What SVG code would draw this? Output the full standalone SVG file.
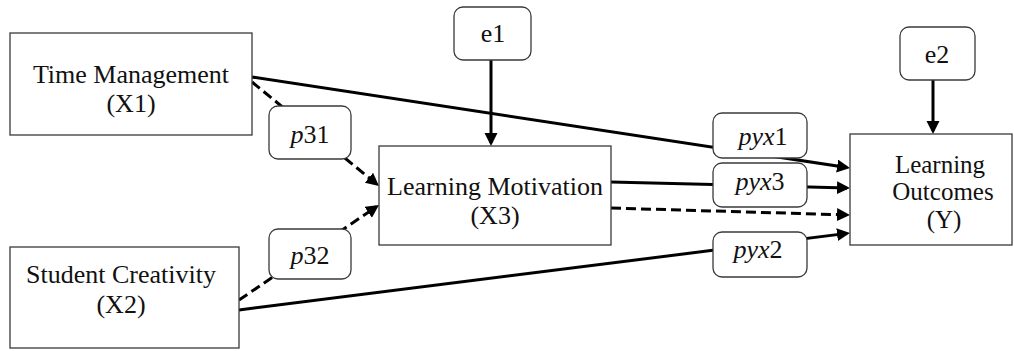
<svg xmlns="http://www.w3.org/2000/svg" width="1014" height="351" viewBox="0 0 1014 351">
  <style>
    .box { fill: #ffffff; stroke: #3a3a3a; stroke-width: 1.3; }
    .lbl { fill: #ffffff; stroke: #3a3a3a; stroke-width: 1.3; }
    .txt { font-family: 'Liberation Serif', 'DejaVu Serif', serif; font-size: 26px; fill: #111111; text-anchor: middle; }
    .sm { font-size: 25px; }
    .it { font-style: italic; }
    .path { fill: none; stroke: #000000; stroke-width: 3; }
    .dash { stroke-dasharray: 10 5; }
  </style>
  <defs>
    <marker id="arrow" markerUnits="userSpaceOnUse" markerWidth="14" markerHeight="14" refX="10" refY="6.5" orient="auto">
      <path d="M0,0 L13,6.5 L0,13 Z" fill="#000000"/>
    </marker>
  </defs>

  <!-- paths between variables -->
  <g id="connectors">
    <line class="path" x1="252" y1="77" x2="847.03" y2="167.55" marker-end="url(#arrow)"/>
    <line class="path" x1="611" y1="182" x2="847" y2="187.92" marker-end="url(#arrow)"/>
    <line class="path dash" x1="611" y1="208" x2="847" y2="214.91" marker-end="url(#arrow)"/>
    <line class="path" x1="239" y1="310" x2="847.02" y2="233.38" marker-end="url(#arrow)"/>
    <line class="path dash" x1="252" y1="82" x2="376.68" y2="184.1" marker-end="url(#arrow)"/>
    <line class="path dash" x1="239" y1="300" x2="376.52" y2="206.68" marker-end="url(#arrow)"/>
    <line class="path" x1="491" y1="60" x2="491" y2="143" marker-end="url(#arrow)"/>
    <line class="path" x1="933" y1="80" x2="933" y2="131" marker-end="url(#arrow)"/>
  </g>

  <g id="x1">
    <rect class="box" x="10" y="33" width="242" height="102"/>
    <text class="txt" x="131" y="83">Time Management</text>
    <text class="txt" x="131" y="112">(X1)</text>
  </g>

  <g id="x2">
    <rect class="box" x="10" y="247" width="229" height="101"/>
    <text class="txt" x="121" y="283">Student Creativity</text>
    <text class="txt" x="121" y="313">(X2)</text>
  </g>

  <g id="x3">
    <rect class="box" x="379" y="146" width="232" height="99"/>
    <text class="txt" x="495" y="195">Learning Motivation</text>
    <text class="txt" x="495" y="224">(X3)</text>
  </g>

  <g id="y">
    <rect class="box" x="850" y="134" width="162" height="111"/>
    <text class="txt sm" x="940" y="173">Learning</text>
    <text class="txt sm" x="943" y="200">Outcomes</text>
    <text class="txt sm" x="944" y="228">(Y)</text>
  </g>

  <g id="e1">
    <rect class="lbl" x="454" y="7" width="77" height="53" rx="9"/>
    <text class="txt" x="493" y="42">e1</text>
  </g>

  <g id="e2">
    <rect class="lbl" x="900" y="27" width="75" height="53" rx="9"/>
    <text class="txt" x="937" y="63">e2</text>
  </g>

  <g id="p31">
    <rect class="lbl" x="269" y="106" width="82" height="53" rx="9"/>
    <text class="txt" x="310" y="143"><tspan class="it">p</tspan>31</text>
  </g>

  <g id="p32">
    <rect class="lbl" x="269" y="229" width="82" height="50" rx="9"/>
    <text class="txt" x="310" y="264"><tspan class="it">p</tspan>32</text>
  </g>

  <g id="pyx1">
    <rect class="lbl" x="713" y="113" width="94" height="45" rx="9"/>
    <text class="txt" x="763" y="145"><tspan class="it">pyx</tspan>1</text>
  </g>

  <g id="pyx3">
    <rect class="lbl" x="713" y="163" width="94" height="44" rx="9"/>
    <text class="txt" x="760" y="190"><tspan class="it">pyx</tspan>3</text>
  </g>

  <g id="pyx2">
    <rect class="lbl" x="713" y="232" width="94" height="45" rx="9"/>
    <text class="txt" x="758" y="258"><tspan class="it">pyx</tspan>2</text>
  </g>
</svg>
